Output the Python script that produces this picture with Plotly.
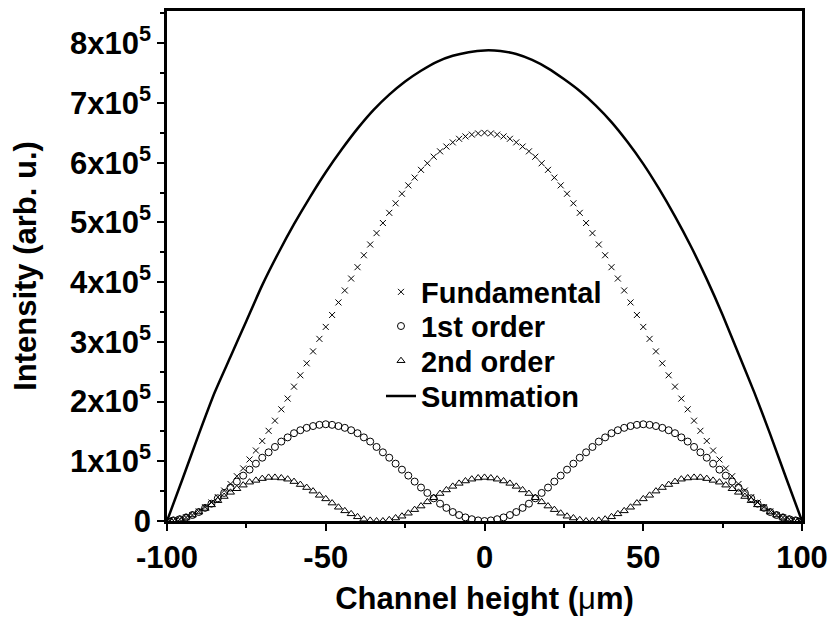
import plotly.graph_objects as go

# Channel height positions (µm) of the modal intensity samples
height_um = list(range(-100, 101, 2))

# Intensities in units of 1e5 (arb. u.)
fundamental = [
    0.00, 0.01, 0.03, 0.06, 0.10, 0.16, 0.23, 0.31, 0.40, 0.51,
    0.62, 0.75, 0.88, 1.03, 1.18, 1.34, 1.51, 1.68, 1.87, 2.05,
    2.25, 2.44, 2.64, 2.84, 3.05, 3.25, 3.45, 3.66, 3.86, 4.06,
    4.25, 4.45, 4.63, 4.82, 4.99, 5.16, 5.32, 5.48, 5.62, 5.75,
    5.88, 5.99, 6.10, 6.19, 6.27, 6.34, 6.40, 6.44, 6.47, 6.49,
    6.50,
    6.49, 6.47, 6.44, 6.40, 6.34, 6.27, 6.19, 6.10, 5.99, 5.88,
    5.75, 5.62, 5.48, 5.32, 5.16, 4.99, 4.82, 4.63, 4.45, 4.25,
    4.06, 3.86, 3.66, 3.45, 3.25, 3.05, 2.84, 2.64, 2.44, 2.25,
    2.05, 1.87, 1.68, 1.51, 1.34, 1.18, 1.03, 0.88, 0.75, 0.62,
    0.51, 0.40, 0.31, 0.23, 0.16, 0.10, 0.06, 0.03, 0.01, 0.00,
]

first_order = [
    0.00, 0.01, 0.03, 0.06, 0.10, 0.15, 0.22, 0.29, 0.38, 0.47,
    0.56, 0.66, 0.76, 0.86, 0.96, 1.06, 1.15, 1.24, 1.33, 1.40,
    1.47, 1.52, 1.56, 1.59, 1.61, 1.62, 1.61, 1.59, 1.56, 1.52,
    1.47, 1.40, 1.33, 1.24, 1.15, 1.06, 0.96, 0.86, 0.76, 0.66,
    0.56, 0.47, 0.38, 0.29, 0.22, 0.15, 0.10, 0.06, 0.03, 0.01,
    0.00,
    0.01, 0.03, 0.06, 0.10, 0.15, 0.22, 0.29, 0.38, 0.47, 0.56,
    0.66, 0.76, 0.86, 0.96, 1.06, 1.15, 1.24, 1.33, 1.40, 1.47,
    1.52, 1.56, 1.59, 1.61, 1.62, 1.61, 1.59, 1.56, 1.52, 1.47,
    1.40, 1.33, 1.24, 1.15, 1.06, 0.96, 0.86, 0.76, 0.66, 0.56,
    0.47, 0.38, 0.29, 0.22, 0.15, 0.10, 0.06, 0.03, 0.01, 0.00,
]

second_order = [
    0.00, 0.01, 0.03, 0.06, 0.10, 0.15, 0.21, 0.27, 0.34, 0.41,
    0.48, 0.54, 0.60, 0.65, 0.68, 0.71, 0.73, 0.73, 0.72, 0.70,
    0.66, 0.61, 0.56, 0.50, 0.43, 0.37, 0.30, 0.23, 0.17, 0.12,
    0.07, 0.03, 0.01, 0.00, 0.00, 0.02, 0.05, 0.08, 0.13, 0.19,
    0.25, 0.32, 0.39, 0.46, 0.52, 0.58, 0.63, 0.67, 0.70, 0.72,
    0.73,
    0.72, 0.70, 0.67, 0.63, 0.58, 0.52, 0.46, 0.39, 0.32, 0.25,
    0.19, 0.13, 0.08, 0.05, 0.02, 0.00, 0.00, 0.01, 0.03, 0.07,
    0.12, 0.17, 0.23, 0.30, 0.37, 0.43, 0.50, 0.56, 0.61, 0.66,
    0.70, 0.72, 0.73, 0.73, 0.71, 0.68, 0.65, 0.60, 0.54, 0.48,
    0.41, 0.34, 0.27, 0.21, 0.15, 0.10, 0.06, 0.03, 0.01, 0.00,
]

# Summed intensity profile, sampled every 5 µm
sum_height_um = list(range(-100, 101, 5))
summation = [
    0.00, 0.72, 1.45, 2.15, 2.75, 3.35, 3.95, 4.48, 4.97, 5.42,
    5.84, 6.22, 6.57, 6.88, 7.14, 7.36, 7.54, 7.69, 7.79, 7.85,
    7.88,
    7.87, 7.82, 7.72, 7.58, 7.40, 7.20, 6.96, 6.68, 6.35, 5.98,
    5.56, 5.10, 4.60, 4.05, 3.45, 2.80, 2.15, 1.45, 0.72, 0.00,
]

y_tick_vals = [0, 1, 2, 3, 4, 5, 6, 7, 8]
y_tick_text = ["<b>0</b>"] + [f"<b>{v}x10<sup>5</sup></b>" for v in y_tick_vals[1:]]
x_tick_vals = [-100, -50, 0, 50, 100]
x_tick_text = [f"<b>{v}</b>" for v in x_tick_vals]

FONT = "Liberation Sans, Arial, sans-serif"
TICK_SIZE = 31
TITLE_SIZE = 31
LEGEND_SIZE = 29

fig = go.Figure()
fig.add_trace(go.Scatter(
    x=height_um, y=fundamental, mode="markers", name="<b>Fundamental</b>",
    legend="legend",
    marker=dict(symbol="x-thin-open", size=6, color="black",
                line=dict(color="black", width=1)),
))
fig.add_trace(go.Scatter(
    x=height_um, y=first_order, mode="markers", name="<b>1st order</b>",
    legend="legend2",
    marker=dict(symbol="circle-open", size=7, color="black",
                line=dict(color="black", width=1)),
))
fig.add_trace(go.Scatter(
    x=height_um, y=second_order, mode="markers", name="<b>2nd order</b>",
    legend="legend3",
    marker=dict(symbol="triangle-up-open", size=7, color="black",
                line=dict(color="black", width=1)),
))
fig.add_trace(go.Scatter(
    x=sum_height_um, y=summation, mode="lines", name="<b>Summation</b>",
    legend="legend4",
    line=dict(color="black", width=2.5, shape="spline", smoothing=0.6),
))


def legend_box(y_center):
    # one single-entry legend per series, stacked with a tight row pitch
    return dict(
        x=0.337, y=y_center, xanchor="left", yanchor="middle",
        bgcolor="rgba(0,0,0,0)", borderwidth=0,
        font=dict(family=FONT, size=LEGEND_SIZE, color="black"),
        itemwidth=30,
    )


fig.update_layout(
    width=831, height=625,
    margin=dict(l=167, r=29, t=11, b=104),
    paper_bgcolor="white", plot_bgcolor="white",
    font=dict(family=FONT, color="black", size=TICK_SIZE),
    showlegend=True,
    legend=legend_box(0.449),
    legend2=legend_box(0.382),
    legend3=legend_box(0.314),
    legend4=legend_box(0.245),
    xaxis=dict(
        range=[-100, 100], showgrid=False, zeroline=False, automargin=False,
        showline=True, linecolor="black", linewidth=2.5, mirror=True,
        ticks="outside", ticklen=7, tickwidth=2, tickcolor="black",
        tickvals=x_tick_vals, ticktext=x_tick_text,
        tickfont=dict(family=FONT, size=TICK_SIZE),
        minor=dict(ticks="outside", dtick=25, tick0=0, ticklen=4,
                   tickwidth=1.5, tickcolor="black"),
        title=dict(text="<b>Channel height (</b>μ<b>m)</b>",
                   font=dict(family=FONT, size=TITLE_SIZE), standoff=14),
    ),
    yaxis=dict(
        range=[0, 8.54], showgrid=False, zeroline=False, automargin=False,
        showline=True, linecolor="black", linewidth=2.5, mirror=True,
        ticks="outside", ticklen=7, tickwidth=2, tickcolor="black",
        tickvals=y_tick_vals, ticktext=y_tick_text,
        tickfont=dict(family=FONT, size=TICK_SIZE),
        minor=dict(ticks="outside", dtick=0.5, tick0=0, ticklen=4,
                   tickwidth=1.5, tickcolor="black"),
        title=dict(text="<b>Intensity (arb. u.)</b>",
                   font=dict(family=FONT, size=TITLE_SIZE), standoff=25),
    ),
)

fig.write_html("out.html")
